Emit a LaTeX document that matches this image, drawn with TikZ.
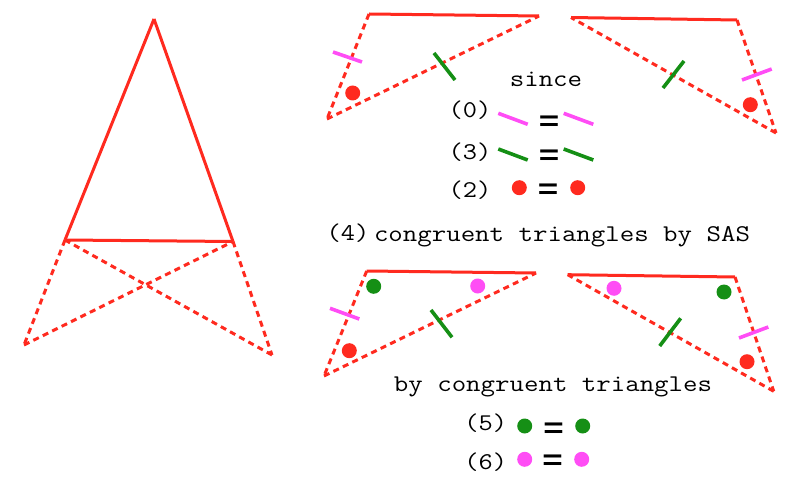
\documentclass[tikz,border=0pt]{standalone}
\usepackage{tkz-euclide}
\usepackage{fontspec}
\newfontfamily\eqfont{Liberation Sans}
\definecolor{linered}{HTML}{FF2A1F}
\definecolor{tickpink}{HTML}{FF4DF5}
\definecolor{tickgreen}{HTML}{158F15}
\tikzset{
	side/.style={color=linered,line width=3pt},
	dashside/.style={side,dash pattern=on 6pt off 4.5pt},
	pinktick/.style={color=tickpink,line width=3.6pt},
	greentick/.style={color=tickgreen,line width=3.6pt},
	dot/.style={circle,fill=#1,draw=none,inner sep=0pt,minimum size=15pt},
	words/.style={font=\ttfamily\fontsize{24}{24}\selectfont,xscale=1.17,transform shape,inner sep=0pt,anchor=base},
	num/.style={font=\ttfamily\fontsize{24}{24}\selectfont,xscale=1.15,transform shape,inner sep=0pt},
	equal/.style={font=\eqfont\bfseries\fontsize{28}{28}\selectfont,xscale=1.25,transform shape,inner sep=0pt}
}
\begin{document}
\begin{tikzpicture}[x=1pt,y=-1pt]
		\useasboundingbox (0,0) rectangle (794,486);
		% large triangle
		\tkzDefPoints{154/19/T,65/240/L,233/241.5/R,24/345/P,272/355/Q}
		\foreach \u/\v in {T/L,T/R,L/R} \draw[side] (\u) -- (\v);
		\foreach \u/\v in {L/P,P/R,R/Q,Q/L} \draw[dashside] (\u) -- (\v);

		% upper pair
		\tkzDefPoints{369/14/A,539/16/B,327/119/C,571/17.5/D,737/20/E,776/133/F}
		\foreach \u/\v in {A/B,D/E} \draw[side] (\u) -- (\v);
		\foreach \u/\v in {A/C,C/B,E/F,F/D} \draw[dashside] (\u) -- (\v);
		\tkzDefPoints{333/52/a1,362/62/a2,434/53/a3,455/80/a4,742/80/a5,771.7/69/a6,663/88/a7,684/61/a8}
		\foreach \u/\v in {a1/a2,a5/a6} \draw[pinktick] (\u) -- (\v);
		\foreach \u/\v in {a3/a4,a7/a8} \draw[greentick] (\u) -- (\v);
		\node[dot=linered] (redA) at (352.7,93) {};
		\node[dot=linered] (redB) at (750.3,104.7) {};

		% since
		\node[words] (since) at (546,87) {since};
		\node[num] (n0) at (470,110) {(0)};
		\tkzDefPoints{498.3/113.3/b1,527.7/124.3/b2,563.7/113.3/b3,593.3/124.3/b4}
		\foreach \u/\v in {b1/b2,b3/b4} \draw[pinktick] (\u) -- (\v);
		\node[equal] (eq0) at (549,123) {=};
		\node[num] (n3) at (470,151.7) {(3)};
		\tkzDefPoints{498.3/149/c1,527.7/160/c2,563.7/149/c3,593.3/160/c4}
		\foreach \u/\v in {c1/c2,c3/c4} \draw[greentick] (\u) -- (\v);
		\node[equal] (eq3) at (549,157) {=};
		\node[num] (n2) at (470,190) {(2)};
		\node[dot=linered] (redC) at (519.3,187.7) {};
		\node[equal] (eq2) at (548,191) {=};
		\node[dot=linered] (redD) at (577.7,187.7) {};
		\node[num] (n4) at (348,233) {(4)};
		\node[words] (sas) at (562,241) {congruent triangles by SAS};

		% lower pair
		\tkzDefPoints{366.7/271/G,536/273/H,324/376/I,567.7/274.7/J,735/277/K,773.7/391.3/M}
		\foreach \u/\v in {G/H,J/K} \draw[side] (\u) -- (\v);
		\foreach \u/\v in {G/I,I/H,K/M,M/J} \draw[dashside] (\u) -- (\v);
		\tkzDefPoints{330/308.3/d1,359.3/319/d2,431/310/d3,452/337.3/d4,739/338/d5,768.3/327/d6,659.7/346/d7,680.7/318.3/d8}
		\foreach \u/\v in {d1/d2,d5/d6} \draw[pinktick] (\u) -- (\v);
		\foreach \u/\v in {d3/d4,d7/d8} \draw[greentick] (\u) -- (\v);
		\node[dot=tickgreen] (greenA) at (373.7,286.3) {};
		\node[dot=tickpink] (pinkA) at (477.7,286) {};
		\node[dot=linered] (redE) at (349.3,350.7) {};
		\node[dot=tickpink] (pinkB) at (614,288.3) {};
		\node[dot=tickgreen] (greenB) at (724,292) {};
		\node[dot=linered] (redF) at (747,361.7) {};

		% by congruent triangles
		\node[words] (bycong) at (553,391) {by congruent triangles};
		\node[num] (n5) at (485.7,422.7) {(5)};
		\node[dot=tickgreen] (greenC) at (524.7,426) {};
		\node[equal] (eq5) at (553.7,430) {=};
		\node[dot=tickgreen] (greenD) at (582.7,426) {};
		\node[num] (n6) at (485.7,461.7) {(6)};
		\node[dot=tickpink] (pinkC) at (524.7,459.3) {};
		\node[equal] (eq6) at (552.7,462) {=};
		\node[dot=tickpink] (pinkD) at (581.7,459.3) {};
	\end{tikzpicture}
\end{document}
